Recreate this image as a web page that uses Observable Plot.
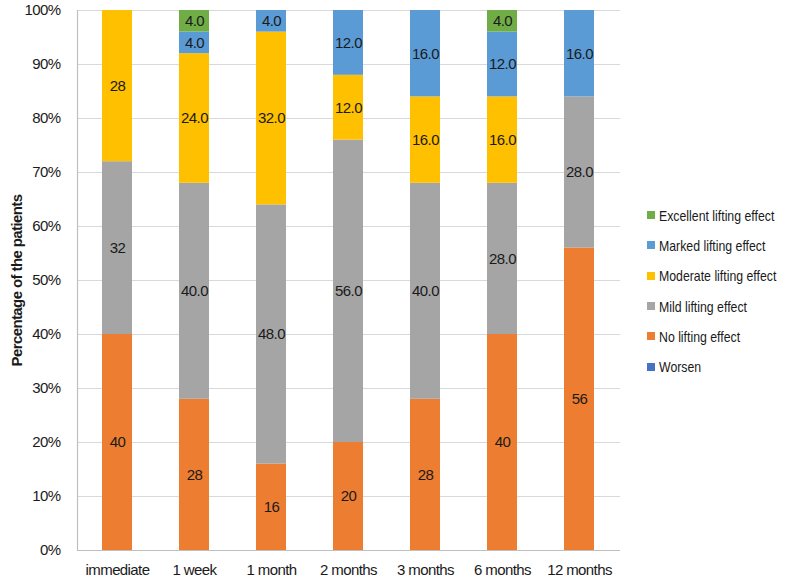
<!DOCTYPE html>
<html>
<head>
<meta charset="utf-8">
<script src="https://cdn.jsdelivr.net/npm/d3@7"></script>
<script src="https://cdn.jsdelivr.net/npm/@observablehq/plot@0.6"></script>
<style>
  html, body { margin: 0; padding: 0; background: #fff; }
  #wrap { position: relative; width: 797px; height: 582px; font-family: "Liberation Sans", Arial, sans-serif; }
  #legend { position: absolute; left: 647px; top: 200px; font-size: 15px; color: #1a1a1a; }
  #legend .row { height: 30.3px; display: flex; align-items: center; white-space: nowrap; }
  #legend .sw { width: 8px; height: 8px; margin-right: 4px; flex: none; }
  #legend .tx { display: inline-block; transform: scaleX(0.82); transform-origin: left center; }
  #chart svg text { letter-spacing: -0.6px; }
</style>
</head>
<body>
<div id="wrap"><div id="chart"></div><div id="legend"></div></div>
<script>
const categories = ["immediate", "1 week", "1 month", "2 months", "3 months", "6 months", "12 months"];
const seriesNames = ["Worsen", "No lifting effect", "Mild lifting effect", "Moderate lifting effect", "Marked lifting effect", "Excellent lifting effect"];
const seriesColors = ["#4472C4", "#ED7D31", "#A5A5A5", "#FFC000", "#5B9BD5", "#70AD47"];

const worsen    = [0, 0, 0, 0, 0, 0, 0];
const noLift    = [40, 28, 16, 20, 28, 40, 56];
const mild      = [32, 40, 48, 56, 40, 28, 28];
const moderate  = [28, 24, 32, 12, 16, 16, 0];
const marked    = [0, 4, 4, 12, 16, 12, 16];
const excellent = [0, 4, 0, 0, 0, 4, 0];

const worsenLabels    = ["", "", "", "", "", "", ""];
const noLiftLabels    = ["40", "28", "16", "20", "28", "40", "56"];
const mildLabels      = ["32", "40.0", "48.0", "56.0", "40.0", "28.0", "28.0"];
const moderateLabels  = ["28", "24.0", "32.0", "12.0", "16.0", "16.0", ""];
const markedLabels    = ["", "4.0", "4.0", "12.0", "16.0", "12.0", "16.0"];
const excellentLabels = ["", "4.0", "", "", "", "4.0", ""];

const yTicks = [0, 10, 20, 30, 40, 50, 60, 70, 80, 90, 100];

const seriesValues = [worsen, noLift, mild, moderate, marked, excellent];
const seriesLabels = [worsenLabels, noLiftLabels, mildLabels, moderateLabels, markedLabels, excellentLabels];

const rows = [];
seriesNames.forEach((s, si) => {
  categories.forEach((c, ci) => {
    rows.push({category: c, series: s, value: seriesValues[si][ci], label: seriesLabels[si][ci]});
  });
});
const textRows = rows.filter(d => d.value > 0);

const font = '"Liberation Sans", Arial, sans-serif';

const chart = Plot.plot({
  width: 797,
  height: 582,
  marginTop: 10,
  marginBottom: 32,
  marginLeft: 77,
  marginRight: 177,
  style: {fontFamily: font, fontSize: "15px", color: "#1a1a1a", background: "#fff"},
  x: {domain: categories, paddingInner: 0.61, paddingOuter: 0.305, label: null},
  y: {domain: [0, 100], label: null},
  color: {domain: seriesNames, range: seriesColors},
  marks: [
    Plot.ruleY(yTicks.filter(t => t > 0), {stroke: "#d9d9d9", strokeWidth: 1}),
    Plot.frame({anchor: "left", stroke: "#bfbfbf", strokeWidth: 1.2}),
    Plot.barY(rows, Plot.stackY({order: seriesNames, x: "category", y: "value", z: "series", fill: "series"})),
    Plot.text(textRows, Plot.stackY({order: seriesNames, x: "category", y: "value", z: "series", text: "label", fill: "#1a1a1a", fontSize: 15})),
    Plot.ruleY([0], {stroke: "#bfbfbf", strokeWidth: 1.2}),
    Plot.axisY({ticks: yTicks, tickFormat: d => d + "%", tickSize: 0, tickPadding: 17, fontSize: 15,
      label: "Percentage of the patients", labelAnchor: "center", labelOffset: 66, labelArrow: "none"}),
    Plot.axisX({tickSize: 0, tickPadding: 14, fontSize: 15, label: null})
  ]
});

document.getElementById("chart").appendChild(chart);

chart.querySelectorAll("g[aria-label='y-axis label'] text, g[aria-label='y-axis label']").forEach(el => {
  el.setAttribute("font-weight", "bold");
  el.style.fontWeight = "bold";
  el.setAttribute("font-size", "15");
});

const legend = document.getElementById("legend");
[...seriesNames].reverse().forEach((s) => {
  const i = seriesNames.indexOf(s);
  const row = document.createElement("div");
  row.className = "row";
  const sw = document.createElement("div");
  sw.className = "sw";
  sw.style.background = seriesColors[i];
  const t = document.createElement("span");
  t.className = "tx";
  t.textContent = s;
  row.appendChild(sw);
  row.appendChild(t);
  legend.appendChild(row);
});
</script>
</body>
</html>
